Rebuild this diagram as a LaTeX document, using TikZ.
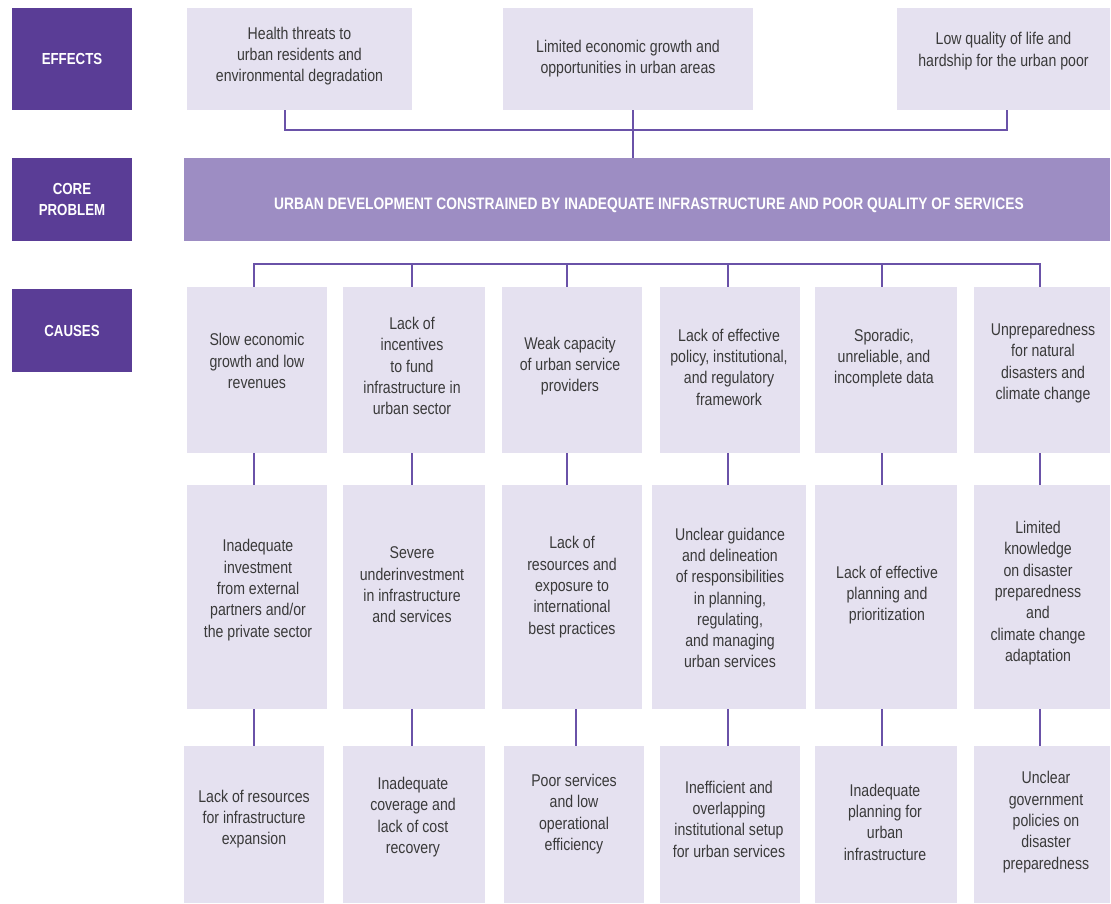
\documentclass[tikz,border=0pt]{standalone}
\usepackage{fontspec}
\setmainfont{Liberation Sans}[FakeStretch=0.83]
\usetikzlibrary{fit}
\definecolor{labcol}{RGB}{90,61,150}
\definecolor{corecol}{RGB}{157,141,195}
\definecolor{boxcol}{RGB}{229,225,240}
\definecolor{linecol}{RGB}{106,82,168}
\definecolor{txtcol}{RGB}{58,58,58}
\tikzset{
  lab/.style={fill=labcol, inner sep=0pt, draw=none},
  labtxt/.style={text=white, font=\bfseries\fontsize{16}{20.5}\selectfont, align=center, inner sep=0pt},
  box/.style={fill=boxcol, inner sep=0pt, draw=none},
  core/.style={fill=corecol, inner sep=0pt, draw=none},
  txt/.style={text=txtcol, font=\fontsize{17}{21.3}\selectfont, align=center, inner sep=0pt},
  conn/.style={draw=linecol, line width=1.4pt},
}
\begin{document}
\begin{tikzpicture}[x=1pt,y=-1pt]
\useasboundingbox (0,0) rectangle (1111,903);
% left labels
\node[lab, fit={(12,8) (132,110)}] (leff) {};
\node[labtxt] (lefft) at (leff.center) {EFFECTS};
\node[lab, fit={(12,158) (132,241)}] (lcore) {};
\node[labtxt] (lcoret) at (lcore.center) {CORE\\PROBLEM};
\node[lab, fit={(12,289) (132,372)}] (lcau) {};
\node[labtxt] (lcaut) at (lcau.center) {CAUSES};
% effects
\node[box, fit={(187,8) (412,110)}] (e1) {};
\node[box, fit={(503,8) (753,110)}] (e2) {};
\node[box, fit={(897,8) (1110,110)}] (e3) {};
\node[txt] (e1t) at (299.5,56) {Health threats to\\urban residents and\\environmental degradation};
\node[txt] (e2t) at (628,58.5) {Limited economic growth and\\opportunities in urban areas};
\node[txt] (e3t) at (1003.5,51) {Low quality of life and\\hardship for the urban poor};
% core
\node[core, fit={(184,158) (1110,241)}] (core) {};
\node[text=white, font=\bfseries\fontsize{16.6}{19}\selectfont, inner sep=0pt] (coret) at (649,205) {URBAN DEVELOPMENT CONSTRAINED BY INADEQUATE INFRASTRUCTURE AND POOR QUALITY OF SERVICES};
% effects connectors
\coordinate (ebus1) at (285,130);
\coordinate (ebus3) at (1007,130);
\coordinate (ecol2) at (633,130);
\draw[conn] (ebus1 |- e1.south) -- (ebus1) -- (ebus3) -- (ebus3 |- e3.south);
\draw[conn] (ecol2 |- e2.south) -- (ecol2 |- core.north);
% causes row 1
\node[box, fit={(187,287) (327,453)}] (c1) {};
\node[box, fit={(343,287) (485,453)}] (c2) {};
\node[box, fit={(502,287) (642,453)}] (c3) {};
\node[box, fit={(660,287) (800,453)}] (c4) {};
\node[box, fit={(815,287) (957,453)}] (c5) {};
\node[box, fit={(974,287) (1110,453)}] (c6) {};
\node[txt] (c1t) at (257,361) {Slow economic\\growth and low\\revenues};
\node[txt] (c2t) at (412,366) {Lack of\\incentives\\to fund\\infrastructure in\\urban sector};
\node[txt] (c3t) at (570,366) {Weak capacity\\of urban service\\providers};
\node[txt] (c4t) at (729,367) {Lack of effective\\policy, institutional,\\and regulatory\\framework};
\node[txt] (c5t) at (884,358) {Sporadic,\\unreliable, and\\incomplete data};
\node[txt] (c6t) at (1043,363) {Unpreparedness\\for natural\\disasters and\\climate change};
% row 2
\node[box, fit={(187,485) (327,709)}] (d1) {};
\node[box, fit={(343,485) (485,709)}] (d2) {};
\node[box, fit={(502,485) (642,709)}] (d3) {};
\node[box, fit={(652,485) (806,709)}] (d4) {};
\node[box, fit={(815,485) (957,709)}] (d5) {};
\node[box, fit={(974,485) (1110,709)}] (d6) {};
\node[txt] (d1t) at (258,590) {Inadequate\\investment\\from external\\partners and/or\\the private sector};
\node[txt] (d2t) at (412,585) {Severe\\underinvestment\\in infrastructure\\and services};
\node[txt] (d3t) at (572,587) {Lack of\\resources and\\exposure to\\international\\best practices};
\node[txt] (d4t) at (730,598) {Unclear guidance\\and delineation\\of responsibilities\\in planning,\\regulating,\\and managing\\urban services};
\node[txt] (d5t) at (887,595) {Lack of effective\\planning and\\prioritization};
\node[txt] (d6t) at (1038,593) {Limited\\knowledge\\on disaster\\preparedness\\and\\climate change\\adaptation};
% row 3
\node[box, fit={(184,746) (324,903)}] (f1) {};
\node[box, fit={(343,746) (485,903)}] (f2) {};
\node[box, fit={(504,746) (644,903)}] (f3) {};
\node[box, fit={(660,746) (800,903)}] (f4) {};
\node[box, fit={(815,746) (957,903)}] (f5) {};
\node[box, fit={(974,746) (1110,903)}] (f6) {};
\node[txt] (f1t) at (254,819) {Lack of resources\\for infrastructure\\expansion};
\node[txt] (f2t) at (413,817) {Inadequate\\coverage and\\lack of cost\\recovery};
\node[txt] (f3t) at (574,814) {Poor services\\and low\\operational\\efficiency};
\node[txt] (f4t) at (729,819) {Inefficient and\\overlapping\\institutional setup\\for urban services};
\node[txt] (f5t) at (885,822) {Inadequate\\planning for\\urban\\infrastructure};
\node[txt] (f6t) at (1046,822) {Unclear\\government\\policies on\\disaster\\preparedness};
% causes bus
\coordinate (k1) at (254,264);
\coordinate (k2) at (412,264);
\coordinate (k3) at (567,264);
\coordinate (k4) at (728,264);
\coordinate (k5) at (882,264);
\coordinate (k6) at (1040,264);
\coordinate (k3b) at (576,264);
\draw[conn] (k1 |- c1.north) -- (k1) -- (k6) -- (k6 |- c6.north);
\foreach \k/\c in {k2/c2,k3/c3,k4/c4,k5/c5}{
  \draw[conn] (\k) -- (\k |- \c.north);
}
\foreach \k/\c/\d in {k1/c1/d1,k2/c2/d2,k3/c3/d3,k4/c4/d4,k5/c5/d5,k6/c6/d6}{
  \draw[conn] (\k |- \c.south) -- (\k |- \d.north);
}
\foreach \k/\d/\f in {k1/d1/f1,k2/d2/f2,k3b/d3/f3,k4/d4/f4,k5/d5/f5,k6/d6/f6}{
  \draw[conn] (\k |- \d.south) -- (\k |- \f.north);
}
\end{tikzpicture}
\end{document}
